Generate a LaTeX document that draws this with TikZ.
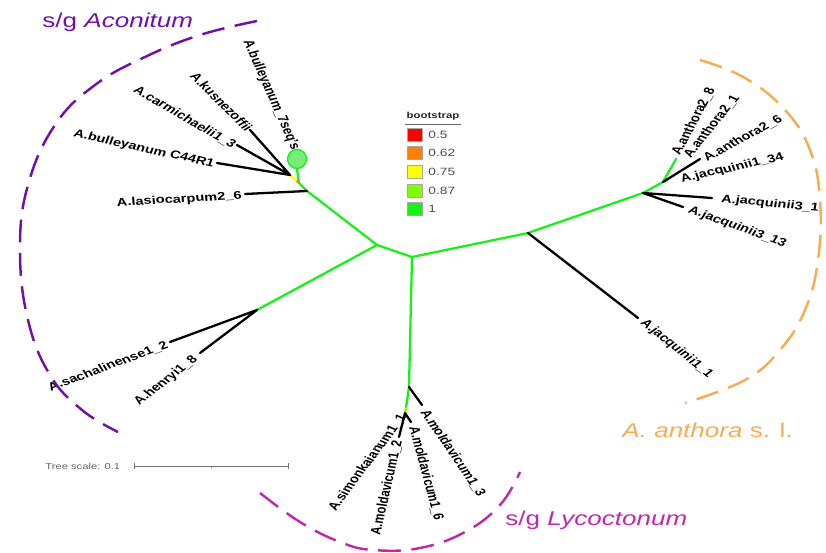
\documentclass[tikz,border=0pt]{standalone}
\usepackage{fontspec}
\setmainfont{Liberation Sans}
\usetikzlibrary{positioning, calc}
\definecolor{bsred}{RGB}{255,0,0}
\definecolor{bsorange}{RGB}{255,128,0}
\definecolor{bsyellow}{RGB}{255,255,0}
\definecolor{bslime}{RGB}{128,255,0}
\definecolor{bsgreen}{RGB}{25,240,25}
\definecolor{acopurple}{RGB}{112,16,168}
\definecolor{antorange}{RGB}{245,172,82}
\definecolor{lycmagenta}{RGB}{192,40,172}
\tikzset{
  branch/.style={line width=1.3pt, line cap=round},
  leaf/.style={font=\bfseries\fontsize{6.4}{7.5}\selectfont, inner sep=0.8pt, xscale=1.3},
  grouptitle/.style={font=\fontsize{11.4}{13}\selectfont, inner sep=0pt, xscale=1.3, anchor=base west},
  grouparc/.style={line width=1.4pt, dash pattern=on 13pt off 6pt},
  legendtext/.style={font=\fontsize{6}{7}\selectfont, text=black!70, inner sep=0pt, xscale=1.3, anchor=west}
}
\begin{document}
\begin{tikzpicture}[x=0.02cm, y=-0.02cm]
\useasboundingbox (0,0) rectangle (826,553);
% internal nodes of the tree (pixel grid, y downwards)
\coordinate (nA) at (377,245);
\coordinate (nB) at (412,257);
\coordinate (nC1) at (307,191);
\coordinate (nC2) at (299,183);
\coordinate (nC3) at (296,180);
\coordinate (nK) at (290,175);
\coordinate (nD) at (257,310);
\coordinate (nL1) at (409,387);
\coordinate (nL2) at (406,408);
\coordinate (nL3) at (405,413);
\coordinate (nE) at (528,233);
\coordinate (nF) at (643,193);
\coordinate (nG) at (663,182);
\coordinate (nH) at (676,159);
% leaf tips
\coordinate (tKus) at (250,130);
\coordinate (tCar) at (237,145);
\coordinate (tC44) at (217,163);
\coordinate (tLas) at (245,194);
\coordinate (tSac) at (170,342);
\coordinate (tHen) at (200,353);
\coordinate (tMo3) at (422,405);
\coordinate (tMo6) at (411,422);
\coordinate (tMo2) at (399,437);
\coordinate (tJa11) at (638,318);
\coordinate (tJa31) at (712,198);
\coordinate (tJa313) at (683,207);
\coordinate (tJa134) at (668,179);
\coordinate (tAn26) at (700,159);
\node[circle, minimum size=10.8pt, inner sep=0pt, fill={rgb,255:red,120;green,236;blue,120}, draw=bsgreen, line width=0.8pt] (q) at (297,159) {};

% branches
\draw[branch, bsgreen] (nA) -- (nB) -- (nE) -- (nF) -- (nG) -- (nH);
\draw[branch, bsgreen] (nA) -- (nC1) -- (nC2) -- (q.south);
\draw[branch, bsorange] (nC2) -- (nC3);
\draw[branch, bsyellow] (nC3) -- (nK);
\draw[branch, bsgreen] (nA) -- (nD);
\draw[branch, bsgreen] (nB) -- (nL1) -- (nL2);
\draw[branch, bslime] (nL2) -- (nL3);
\draw[branch] (nK) -- (tKus) (nK) -- (tCar) (nK) -- (tC44) (nC1) -- (tLas);
\draw[branch] (nD) -- (tSac) (nD) -- (tHen);
\draw[branch] (nL1) -- (tMo3) (nL3) -- (tMo6) (nL3) -- (tMo2);
\draw[branch] (nE) -- (tJa11) (nF) -- (tJa31) (nF) -- (tJa313) (nG) -- (tJa134) (nG) -- (tAn26);

% leaf labels
\node[leaf, anchor=east, rotate=-71.1] (lBul) at (296,151) {A.bulleyanum\_7seq's};
\node[leaf, anchor=east, rotate=-52] (lKus) at (251,131) {A.kusnezoffii};
\node[leaf, anchor=east, rotate=-36.8] (lCar) at (236,147) {A.carmichaelii1\_3};
\node[leaf, anchor=east, rotate=-16] (lC44) at (216,165) {A.bulleyanum C44R1};
\node[leaf, anchor=east, rotate=4.3] (lLas) at (244,196) {A.lasiocarpum2\_6};
\node[leaf, anchor=east, rotate=25.6] (lSac) at (169,344) {A.sachalinense1\_2};
\node[leaf, anchor=east, rotate=45] (lHen) at (197,357) {A.henryi1\_8};
\node[leaf, anchor=east, rotate=59.9] (lSim) at (404,414) {A.simonkaianum1\_1};
\node[leaf, anchor=east, rotate=79.9] (lMo2) at (398,439) {A.moldavicum1\_2};
\node[leaf, anchor=west, rotate=-78.2] (lMo6) at (413,425) {A.moldavicum1\_6};
\node[leaf, anchor=west, rotate=-62.3] (lMo3) at (423,409) {A.moldavicum1\_3};
\node[leaf, anchor=west, rotate=-46.4] (lJa11) at (641,320) {A.jacquinii1\_1};
\node[leaf, anchor=west, rotate=-25.1] (lJa313) at (687,209) {A.jacquinii3\_13};
\node[leaf, anchor=west, rotate=-7.3] (lJa31) at (719,199) {A.jacquinii3\_1};
\node[leaf, anchor=west, rotate=16] (lJa134) at (679,180) {A.jacquinii1\_34};
\node[leaf, anchor=west, rotate=35] (lAn26) at (703,160) {A.anthora2\_6};
\node[leaf, anchor=west, rotate=58.1] (lAn21) at (686,158) {A.anthora2\_1};
\node[leaf, anchor=west, rotate=67.6] (lAn28) at (675,156) {A.anthora2\_8};

% groups
\draw[grouparc, acopurple] plot[smooth, tension=0.7] coordinates {(257,21) (200,35) (145,57) (95,85) (55,125) (28,185) (20,250) (28,320) (50,375) (82,410) (118,432)};
\draw[grouparc, antorange] plot[smooth, tension=0.7] coordinates {(700,60) (745,78) (785,110) (810,150) (820,200) (818,260) (805,310) (780,350) (745,380) (685,403)};
\draw[grouparc, lycmagenta] plot[smooth, tension=0.7] coordinates {(260,493) (300,522) (340,542) (373,550) (420,548) (465,532) (500,505) (520,472)};
\node[grouptitle, text=acopurple] (gAco) at (42,28) {s/g \textit{Aconitum}};
\node[grouptitle, text=antorange] (gAnt) at (622,438) {\textit{A. anthora} s. l.};
\node[grouptitle, text=lycmagenta] (gLyc) at (505,526) {s/g \textit{Lycoctonum}};

% legend
\node[legendtext, anchor=center, font=\bfseries\fontsize{5}{6}\selectfont, text=black!85] (bstitle) at (433,116) {bootstrap};
\draw[black!60, line width=0.5pt] (405,124) -- (461,124);
\foreach \c/\v [count=\i] in {bsred/0.5, bsorange/0.62, bsyellow/0.75, bslime/0.87, bsgreen/1} {
  \draw[fill=\c, draw=black!35, line width=0.4pt] (407,{128+18.7*(\i-1)}) rectangle ++(15,13);
  \node[legendtext] (lg\i) at (428,{134.5+18.7*(\i-1)}) {\v};
}

% tree scale
\node[legendtext, font=\fontsize{4.9}{6}\selectfont, text=black!60] (tscale) at (45,466) {Tree scale: 0.1};
\coordinate (sbl) at (134,466);
\coordinate (sbm) at (211,466);
\coordinate (sbr) at (288,466);
\draw[black!55, line width=0.5pt] (sbl) -- (sbr);
\draw[black!55, line width=0.5pt] ($(sbl)+(0,-3)$) -- ($(sbl)+(0,3)$) ($(sbr)+(0,-3)$) -- ($(sbr)+(0,3)$) (sbm) -- ($(sbm)+(0,2)$);
\end{tikzpicture}
\end{document}
